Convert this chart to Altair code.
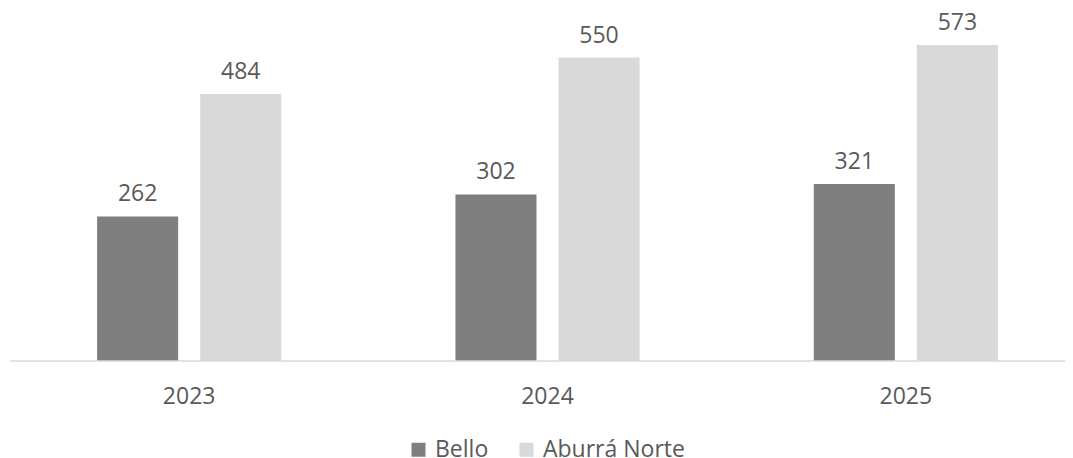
import altair as alt
import pandas as pd

years = ["2023", "2024", "2025"]
series = ["Bello", "Aburrá Norte"]
bello = [262, 302, 321]
aburra = [484, 550, 573]
colors = ["#7f7f7f", "#d9d9d9"]

rows = []
for i, yr in enumerate(years):
    rows.append({"year": yr, "serie": series[0], "value": bello[i]})
    rows.append({"year": yr, "serie": series[1], "value": aburra[i]})
df = pd.DataFrame(rows)

FONT = "Open Sans"
TXT = "#595959"
W, H = 1075, 331

x = alt.X(
    "year:N", sort=years,
    scale=alt.Scale(paddingInner=0, paddingOuter=0),
    axis=alt.Axis(title=None, labelAngle=0, domain=False, ticks=False,
                  labelFontSize=23, labelColor=TXT, labelFont=FONT, labelPadding=24),
)
xoff = alt.XOffset("serie:N", sort=series,
                   scale=alt.Scale(paddingInner=0.2136, paddingOuter=0.845))
y = alt.Y("value:Q", scale=alt.Scale(domain=[0, 600]), axis=None)

base = alt.Chart(df)

bars = base.mark_bar().encode(
    x=x, xOffset=xoff, y=y,
    color=alt.Color(
        "serie:N", sort=series,
        scale=alt.Scale(domain=series, range=colors),
        legend=alt.Legend(
            title=None, orient="none", direction="horizontal",
            legendX=397, legendY=408,
            symbolType="square", symbolSize=196, symbolStrokeWidth=0,
            labelFontSize=23, labelFont=FONT, labelColor=TXT,
            columnPadding=26, labelOffset=5,
        ),
    ),
)

labels = base.mark_text(
    fontSize=23, font=FONT, color=TXT, baseline="alphabetic", dy=-15
).encode(x=x, xOffset=xoff, y=y, text=alt.Text("value:Q"))

baseline = alt.Chart(pd.DataFrame({"v": [0]})).mark_rule(
    color="#d9d9d9", strokeWidth=1.5
).encode(y=alt.Y("v:Q"))

chart = alt.layer(bars, labels, baseline).properties(
    width=W, height=H,
    padding={"left": 2, "top": 22, "right": -20, "bottom": 96},
    autosize=alt.AutoSizeParams(type="none"),
).configure_view(stroke=None)

chart.save("out.html", embed_options={"renderer": "svg", "actions": False})
